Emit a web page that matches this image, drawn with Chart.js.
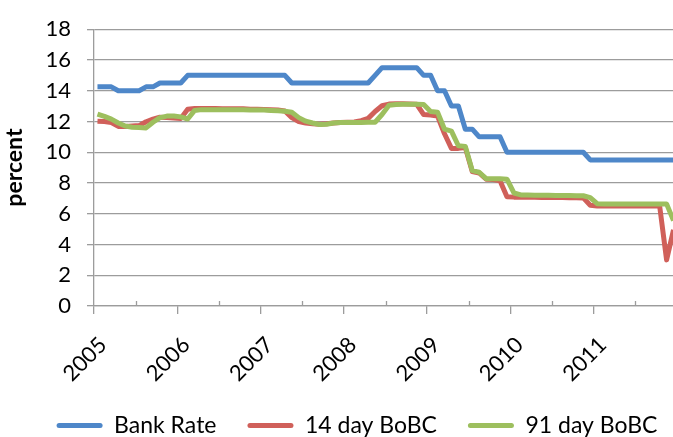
<!DOCTYPE html>
<html>
<head>
<meta charset="utf-8">
<script src="https://cdn.jsdelivr.net/npm/chart.js@4.4.1/dist/chart.umd.min.js"></script>
<style>
  html, body { margin: 0; padding: 0; overflow: hidden; background: #fff; }
  #wrap { width: 714px; height: 447px; }
</style>
</head>
<body>
<div id="wrap"><canvas id="rates" width="714" height="447"></canvas></div>
<script>
// Year labels on the category axis (one per January)
const years = ['2005', '2006', '2007', '2008', '2009', '2010', '2011'];

// Monthly rates, Jan 2005 .. Dec 2011 (percent)
const bankRate = [
  14.25, 14.25, 14.25, 14.0, 14.0, 14.0, 14.0, 14.25, 14.25, 14.5, 14.5, 14.5,
  14.5, 15.0, 15.0, 15.0, 15.0, 15.0, 15.0, 15.0, 15.0, 15.0, 15.0, 15.0,
  15.0, 15.0, 15.0, 15.0, 14.5, 14.5, 14.5, 14.5, 14.5, 14.5, 14.5, 14.5,
  14.5, 14.5, 14.5, 14.5, 15.0, 15.5, 15.5, 15.5, 15.5, 15.5, 15.5, 15.0,
  15.0, 14.0, 14.0, 13.0, 13.0, 11.5, 11.5, 11.0, 11.0, 11.0, 11.0, 10.0,
  10.0, 10.0, 10.0, 10.0, 10.0, 10.0, 10.0, 10.0, 10.0, 10.0, 10.0, 9.5,
  9.5, 9.5, 9.5, 9.5, 9.5, 9.5, 9.5, 9.5, 9.5, 9.5, 9.5, 9.5
];

const bobc14 = [
  12.02, 12.0, 11.93, 11.68, 11.68, 11.7, 11.73, 11.98, 12.15, 12.28, 12.25, 12.22,
  12.2, 12.8, 12.84, 12.85, 12.85, 12.84, 12.83, 12.83, 12.82, 12.82, 12.8, 12.8,
  12.78, 12.76, 12.74, 12.68, 12.25, 12.0, 11.9, 11.85, 11.82, 11.85, 11.9, 11.93,
  11.95, 11.97, 12.05, 12.2, 12.65, 13.02, 13.13, 13.15, 13.15, 13.14, 13.12, 12.45,
  12.42, 12.35, 11.2, 10.25, 10.25, 10.3, 8.75, 8.65, 8.25, 8.22, 8.15, 7.1,
  7.08, 7.08, 7.07, 7.07, 7.06, 7.06, 7.05, 7.05, 7.04, 7.04, 7.03, 6.55,
  6.5, 6.5, 6.5, 6.5, 6.5, 6.5, 6.5, 6.5, 6.5, 6.5, 3.0, 4.95
];

const bobc91 = [
  12.48, 12.33, 12.15, 11.9, 11.7, 11.63, 11.6, 11.58, 11.95, 12.25, 12.35, 12.36,
  12.3, 12.16, 12.72, 12.77, 12.77, 12.77, 12.77, 12.77, 12.77, 12.76, 12.75, 12.75,
  12.74, 12.72, 12.7, 12.67, 12.6, 12.25, 12.02, 11.9, 11.8, 11.82, 11.9, 11.93,
  11.93, 11.94, 11.94, 11.95, 11.95, 12.45, 13.05, 13.1, 13.12, 13.12, 13.12, 13.1,
  12.65, 12.6, 11.5, 11.37, 10.42, 10.38, 8.8, 8.7, 8.28, 8.28, 8.28, 8.25,
  7.35, 7.22, 7.22, 7.21, 7.2, 7.2, 7.19, 7.18, 7.18, 7.17, 7.17, 7.05,
  6.65, 6.64, 6.64, 6.64, 6.64, 6.64, 6.64, 6.64, 6.64, 6.64, 6.64, 5.55
];

// Value axis ticks
const yTicks = [0, 2, 4, 6, 8, 10, 12, 14, 16, 18];

const BLUE = '#4e87c9';
const RED = '#d0605a';
const GREEN = '#9dbf5e';
const GRID = '#9c9c9c';
const FONT = 'Lato';

const CANVAS_W = 714;
const PLOT_LEFT = 94;
const MONTH_PX = 583 / 84;          // one category (month) on the x axis

const toPoints = arr => arr.map((v, i) => ({ x: i, y: v }));

// Short tick marks at mid-year, pointing up from the category axis
const midYearTicks = {
  id: 'midYearTicks',
  afterDraw(chart) {
    const { ctx, scales: { x }, chartArea } = chart;
    ctx.save();
    ctx.strokeStyle = GRID;
    ctx.lineWidth = 1.3;
    years.forEach((_, k) => {
      const px = Math.round(x.getPixelForValue(5.5 + 12 * k)) + 0.5;
      ctx.beginPath();
      ctx.moveTo(px, chartArea.bottom);
      ctx.lineTo(px, chartArea.bottom - 5);
      ctx.stroke();
    });
    ctx.restore();
  }
};

new Chart(document.getElementById('rates'), {
  type: 'line',
  data: {
    datasets: [
      { label: 'Bank Rate', data: toPoints(bankRate), borderColor: BLUE, backgroundColor: BLUE, order: 3 },
      { label: '14 day BoBC', data: toPoints(bobc14), borderColor: RED, backgroundColor: RED, order: 2 },
      { label: '91 day BoBC', data: toPoints(bobc91), borderColor: GREEN, backgroundColor: GREEN, order: 1 }
    ]
  },
  options: {
    responsive: false,
    animation: false,
    devicePixelRatio: 1,
    layout: { padding: { top: 15, left: 0, right: 0, bottom: 0 } },
    elements: {
      line: { borderWidth: 5, tension: 0, borderJoinStyle: 'round', borderCapStyle: 'butt', fill: false },
      point: { radius: 0, hoverRadius: 0 }
    },
    plugins: {
      tooltip: { enabled: false },
      legend: {
        position: 'bottom',
        labels: {
          font: { family: FONT, size: 23 },
          color: '#000',
          boxWidth: 46,
          boxHeight: 5,
          padding: 31,
          useBorderRadius: true,
          borderRadius: 2.5,
          generateLabels: chart =>
            Chart.defaults.plugins.legend.labels.generateLabels(chart)
              .map(item => Object.assign(item, { lineWidth: 0 })),
          sort: (a, b) => a.datasetIndex - b.datasetIndex
        }
      }
    },
    scales: {
      x: {
        type: 'linear',
        min: -0.5,
        max: -0.5 + (CANVAS_W - PLOT_LEFT) / MONTH_PX,
        afterBuildTicks: s => { s.ticks = years.map((_, k) => ({ value: -0.5 + 12 * k })); },
        afterFit: s => { s.height = 77; },
        border: { display: true, color: GRID, width: 1.3 },
        grid: { drawOnChartArea: false, drawTicks: true, tickLength: 8, color: GRID, lineWidth: 1.3 },
        ticks: {
          autoSkip: false,
          minRotation: 45,
          maxRotation: 45,
          padding: 18,
          labelOffset: 9,
          color: '#000',
          font: { family: FONT, size: 22 },
          callback: (v, i) => years[i]
        }
      },
      y: {
        min: 0,
        max: 18,
        afterBuildTicks: s => { s.ticks = yTicks.map(v => ({ value: v })); },
        afterFit: s => { s.width = PLOT_LEFT; },
        border: { display: true, color: GRID, width: 1.3 },
        grid: { color: GRID, lineWidth: 1.3, tickLength: 7 },
        ticks: { padding: 16, color: '#000', font: { family: FONT, size: 22 } },
        title: {
          display: true,
          text: 'percent',
          color: '#000',
          font: { family: FONT, size: 23, weight: 'bold' },
          padding: { top: 1, bottom: 0 }
        }
      }
    }
  },
  plugins: [midYearTicks]
});
</script>
</body>
</html>
